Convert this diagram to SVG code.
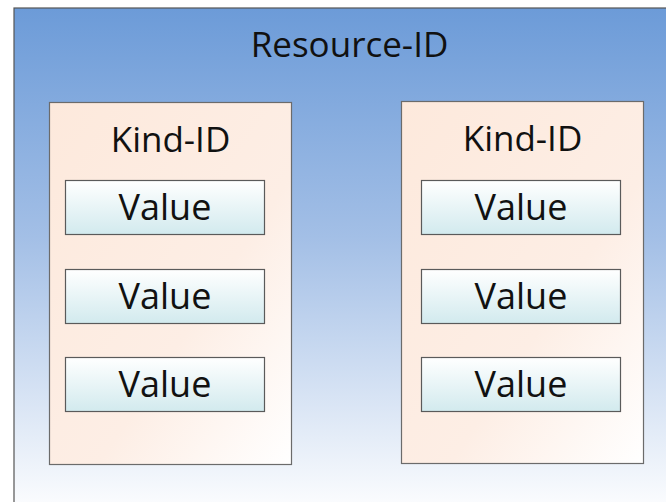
<svg xmlns="http://www.w3.org/2000/svg" width="666" height="502" viewBox="0 0 666 502">
<defs>
<linearGradient id="bg" x1="0" y1="0" x2="0" y2="1">
<stop offset="0" stop-color="#6c9bd8"/>
<stop offset="0.45" stop-color="#a3bfe6"/>
<stop offset="1" stop-color="#ffffff"/>
</linearGradient>
<linearGradient id="kind" x1="0" y1="0" x2="1" y2="1">
<stop offset="0" stop-color="#fde9dc"/>
<stop offset="0.6" stop-color="#fdeee5"/>
<stop offset="1" stop-color="#ffffff"/>
</linearGradient>
<linearGradient id="val" x1="0" y1="0" x2="0" y2="1">
<stop offset="0" stop-color="#ffffff"/>
<stop offset="1" stop-color="#d2eaee"/>
</linearGradient>
<style>
.kind{fill:url(#kind);stroke:#6b6b6b;stroke-width:1.2}
.val{fill:url(#val);stroke:#5a5a5a;stroke-width:1.2}
text{font-family:"Open Sans","Noto Sans",sans-serif;fill:#111;text-anchor:middle}
.t1{font-size:35px}
.t2{font-size:35px}
.t3{font-size:36px}
</style>
</defs>
<g id="resource">
<rect x="14" y="8" width="670" height="510" fill="url(#bg)" stroke="#555" stroke-width="1.2"/>
<text class="t1" x="349.5" y="57">Resource-ID</text>
</g>
<g id="kind1">
<rect class="kind" x="49.5" y="102.5" width="242" height="362"/>
<text class="t2" x="170.5" y="152">Kind-ID</text>
</g>
<g id="kind2">
<rect class="kind" x="401.5" y="101.5" width="242" height="362"/>
<text class="t2" x="522.5" y="151">Kind-ID</text>
</g>
<g id="v1"><rect class="val" x="65.5" y="180.5" width="199" height="54"/><text class="t3" x="165" y="220">Value</text></g>
<g id="v2"><rect class="val" x="65.5" y="269.5" width="199" height="54"/><text class="t3" x="165" y="309">Value</text></g>
<g id="v3"><rect class="val" x="65.5" y="357.5" width="199" height="54"/><text class="t3" x="165" y="397">Value</text></g>
<g id="v4"><rect class="val" x="421.5" y="180.5" width="199" height="54"/><text class="t3" x="521" y="220">Value</text></g>
<g id="v5"><rect class="val" x="421.5" y="269.5" width="199" height="54"/><text class="t3" x="521" y="309">Value</text></g>
<g id="v6"><rect class="val" x="421.5" y="357.5" width="199" height="54"/><text class="t3" x="521" y="397">Value</text></g>
<g id="connectors"/>
</svg>
